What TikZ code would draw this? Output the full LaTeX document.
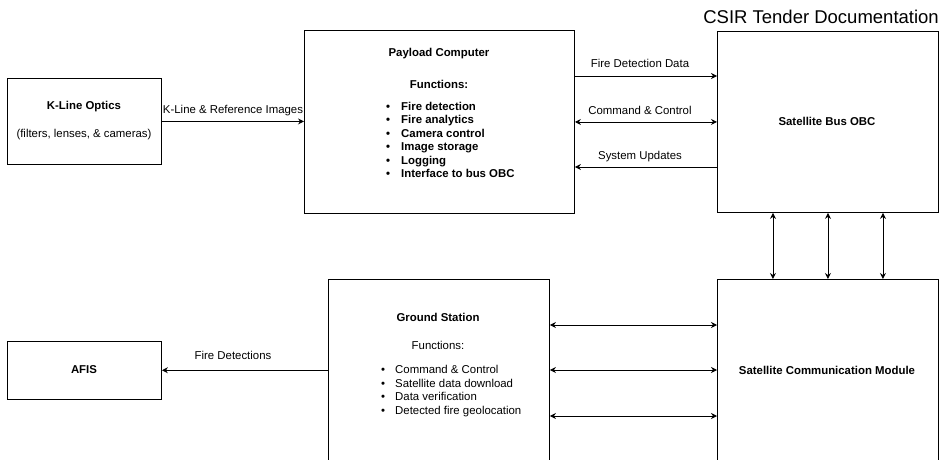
\documentclass[tikz,border=0pt]{standalone}
\usepackage{fontspec}
\setmainfont{Liberation Sans}
\usetikzlibrary{arrows.meta}
\begin{document}
\begin{tikzpicture}[x=1pt,y=-1pt,
  box/.style={draw=black, line width=0.9pt, anchor=north west, inner sep=0pt},
  lbl/.style={font=\fontsize{11.4}{13.4}\selectfont, inner sep=0pt},
  blbl/.style={font=\fontsize{11.4}{13.4}\selectfont\bfseries, inner sep=0pt},
  tip/.tip={Stealth[length=6pt,width=6pt,inset=2pt]},
  conn/.style={line width=0.9pt, -tip},
  biconn/.style={line width=0.9pt, tip-tip},
]
\clip (0,0) rectangle (943,460);
\fill[white] (0,0) rectangle (943,460);

% title
\node[font=\fontsize{18.5}{22}\selectfont, anchor=base east, inner sep=0pt] (csir) at (939,23.5) {CSIR Tender Documentation};

% boxes
\node[box, minimum width=154, minimum height=86] (klo) at (7,78) {};
\node[box, minimum width=270, minimum height=183] (pc) at (304,30) {};
\node[box, minimum width=221, minimum height=181] (obc) at (717,31) {};
\node[box, minimum width=221, minimum height=190] (scm) at (717,279) {};
\node[box, minimum width=221, minimum height=190] (gs) at (328,279) {};
\node[box, minimum width=154, minimum height=58] (afis) at (7,341) {};

% box texts
\node[blbl] (klot) at (84,107) {K-Line Optics};
\node[lbl] (klos) at (84,135) {(filters, lenses, \& cameras)};

\node[blbl] (pct) at (439,54) {Payload Computer};
\node[blbl] (pcf) at (439,84) {Functions:};
\foreach \t [count=\i from 0] in {Fire detection, Fire analytics, Camera control, Image storage, Logging, Interface to bus OBC}{
  \node[blbl, anchor=base west] (pcb\i) at (401,{106+13.5*\i+4.1}) {\t};
  \node[blbl, anchor=base] (pcd\i) at (388,{106+13.5*\i+4.1}) {\textbullet};
}

\node[blbl] (obct) at (827,121) {Satellite Bus OBC};
\node[blbl] (scmt) at (827,370) {Satellite Communication Module};
\node[blbl] (afist) at (84,370) {AFIS};

\node[blbl] (gst) at (438,317) {Ground Station};
\node[lbl] (gsf) at (438,345) {Functions:};
\foreach \t [count=\i from 0] in {Command \& Control, Satellite data download, Data verification, Detected fire geolocation}{
  \node[lbl, anchor=base west] (gsb\i) at (395,{369.5+13.6*\i+4.1}) {\t};
  \node[lbl, anchor=base] (gsd\i) at (383,{369.5+13.6*\i+4.1}) {\textbullet};
}

% connectors
\draw[conn] (klo.east) -- (klo.east -| pc.west);
\node[lbl] (l1) at (233,111) {K-Line \& Reference Images};

\draw[conn] ([yshift=-46pt]pc.north east) -- ([yshift=-45pt]obc.north west);
\node[lbl] (l2) at (640,63) {Fire Detection Data};
\draw[biconn] (pc.east) -- (obc.west);
\node[lbl] (l3) at (640,110.5) {Command \& Control};
\draw[conn] ([yshift=-136pt]obc.north west) -- ([yshift=-137pt]pc.north east);
\node[lbl] (l4) at (640,156.5) {System Updates};

\foreach \dx in {-55,0,55}{
  \draw[biconn] ([xshift=\dx pt]obc.south) -- ([xshift=\dx pt]scm.north);
}
\foreach \dy in {46,91,137}{
  \draw[biconn] ([yshift=-\dy pt]gs.north east) -- ([yshift=-\dy pt]scm.north west);
}
\coordinate (gsa) at ([yshift=-91.3pt]gs.north west);
\draw[conn] (gsa) -- (gsa -| afis.east);
\node[lbl] (l5) at (233,355) {Fire Detections};
\end{tikzpicture}
\end{document}
